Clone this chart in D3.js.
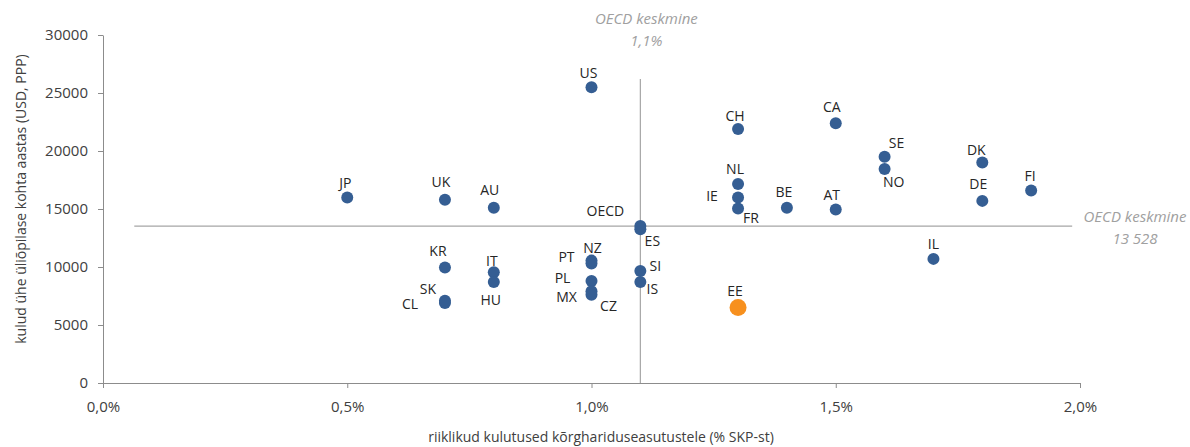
<!DOCTYPE html>
<html>
<head>
<meta charset="utf-8">
<script src="https://cdn.jsdelivr.net/npm/d3@7"></script>
<style>
  body { margin: 0; background: #fff; }
  text { font-family: "Open Sans", sans-serif; }
</style>
</head>
<body>
<div id="chart"></div>
<script>
// Countries, public spending on tertiary institutions (% GDP) and spending per student (USD, PPP)
var codes    = ["JP", "UK", "AU", "US", "CH", "CA", "SE", "NO", "DK", "DE", "FI", "NL", "IE", "FR", "BE", "AT",
                "OECD", "ES", "IL", "KR", "IT", "HU", "SK", "CL", "NZ", "PT", "PL", "MX", "CZ", "SI", "IS", "EE"];
var gdpShare = [0.5, 0.7, 0.8, 1.0, 1.3, 1.5, 1.6, 1.6, 1.8, 1.8, 1.9, 1.3, 1.3, 1.3, 1.4, 1.5,
                1.1, 1.1, 1.7, 0.7, 0.8, 0.8, 0.7, 0.7, 1.0, 1.0, 1.0, 1.0, 1.0, 1.1, 1.1, 1.3];
var perStudent = [16000, 15800, 15100, 25500, 21900, 22400, 19500, 18450, 19000, 15700, 16600, 17150, 16000, 15050, 15100, 14950,
                  13528, 13250, 10700, 9950, 9550, 8700, 7100, 6900, 10550, 10300, 8800, 7900, 7600, 9650, 8700, 6500];
var highlight = "EE";

var oecdX = 1.1, oecdY = 13528;
var xTicks = [0, 0.5, 1.0, 1.5, 2.0];
var yTicks = [0, 5000, 10000, 15000, 20000, 25000, 30000];

// label placement around each dot (px)
var labelPos = {
  JP: [-2, -14], UK: [-4, -18], AU: [-4, -18], US: [-3, -14], CH: [-3, -13], CA: [-4, -16],
  SE: [12, -14], NO: [9, 13], DK: [-6, -13], DE: [-4, -17], FI: [-1, -14], NL: [-3, -15],
  IE: [-26, -1], FR: [13, 10], BE: [-3, -16], AT: [-4, -14], OECD: [-35, -15], ES: [12, 12],
  IL: [0, -15], KR: [-7, -16], IT: [-2, -11], HU: [-3, 18], SK: [-17, -12], CL: [-35, 1],
  NZ: [1, -13], PT: [-25, -6], PL: [-29, -3], MX: [-25, 6], CZ: [17, 11], SI: [15, -5],
  IS: [12, 7], EE: [-3, -17]
};

var data = codes.map(function(c, i) {
  return {code: c, x: gdpShare[i], y: perStudent[i]};
});

var W = 1190, H = 447;
var margin = {top: 35, right: 110, bottom: 64, left: 103};
var width = W - margin.left - margin.right,
    height = H - margin.top - margin.bottom;

var svg = d3.select("#chart").append("svg")
  .attr("width", W)
  .attr("height", H);

var g = svg.append("g")
  .attr("transform", "translate(" + margin.left + "," + margin.top + ")");

var x = d3.scaleLinear().domain([0, 2.0]).range([0, width]);
var y = d3.scaleLinear().domain([0, 30000]).range([height, 0]);

var axisColor = "#8c8c8c", textColor = "#404040";

// Axes
var xAxis = d3.axisBottom(x).tickValues(xTicks).tickSize(5).tickSizeOuter(0)
  .tickFormat(function(d) { return d3.format(".1f")(d).replace(".", ",") + "%"; });
var yAxis = d3.axisLeft(y).tickValues(yTicks).tickSize(5).tickSizeOuter(0)
  .tickFormat(d3.format("d"));

var gx = g.append("g")
  .attr("class", "axis x-axis")
  .attr("transform", "translate(0," + height + ")")
  .call(xAxis);
var gy = g.append("g")
  .attr("class", "axis y-axis")
  .call(yAxis);

[gx, gy].forEach(function(a) {
  a.select(".domain").attr("stroke", axisColor);
  a.selectAll(".tick line").attr("stroke", axisColor);
  a.selectAll(".tick text").attr("fill", textColor).style("font-size", "15px")
    .style("font-family", "'Open Sans', sans-serif");
});
gx.selectAll(".tick text").attr("dy", "1.4em");
gy.selectAll(".tick text").attr("dx", "-7");

// Axis titles
svg.append("text")
  .attr("text-anchor", "middle")
  .attr("transform", "translate(21," + (margin.top + height / 2 - 10) + ")rotate(-90)")
  .attr("dy", "0.35em")
  .attr("fill", textColor)
  .style("font-size", "14px")
  .text("kulud ühe üliõpilase kohta aastas (USD, PPP)");

svg.append("text")
  .attr("text-anchor", "middle")
  .attr("x", 601)
  .attr("y", 442)
  .attr("fill", textColor)
  .style("font-size", "14px")
  .text("riiklikud kulutused kõrghariduseasutustele (% SKP-st)");

// OECD average lines
var refColor = "#a6a6a6";
g.append("line")
  .attr("x1", x(0.064)).attr("x2", x(1.984))
  .attr("y1", y(oecdY)).attr("y2", y(oecdY))
  .attr("stroke", refColor).attr("stroke-width", 1.2);
g.append("line")
  .attr("x1", x(oecdX)).attr("x2", x(oecdX))
  .attr("y1", y(26200)).attr("y2", y(0))
  .attr("stroke", refColor).attr("stroke-width", 1.2);

var refLabel = g.append("g")
  .attr("fill", "#a0a0a0")
  .style("font-size", "15px")
  .style("font-style", "italic")
  .attr("text-anchor", "middle");
refLabel.append("text").attr("x", x(oecdX) + 6).attr("y", -11).text("OECD keskmine");
refLabel.append("text").attr("x", x(oecdX) + 6).attr("y", 11).text("1,1%");
refLabel.append("text").attr("x", width + 55).attr("y", y(oecdY) - 4).text("OECD keskmine");
refLabel.append("text").attr("x", width + 55).attr("y", y(oecdY) + 18).text("13 528");

// Dots
g.selectAll(".dot")
  .data(data)
  .enter().append("circle")
  .attr("class", "dot")
  .attr("cx", function(d) { return x(d.x); })
  .attr("cy", function(d) { return y(d.y); })
  .attr("r", function(d) { return d.code === highlight ? 8.5 : 6; })
  .attr("fill", function(d) { return d.code === highlight ? "#f7901e" : "#355e93"; });

// Labels
g.selectAll(".lbl")
  .data(data)
  .enter().append("text")
  .attr("class", "lbl")
  .attr("text-anchor", "middle")
  .attr("dy", "0.35em")
  .attr("x", function(d) { return x(d.x) + labelPos[d.code][0]; })
  .attr("y", function(d) { return y(d.y) + labelPos[d.code][1]; })
  .attr("fill", "#262626")
  .style("font-size", "14px")
  .text(function(d) { return d.code; });
</script>
</body>
</html>
